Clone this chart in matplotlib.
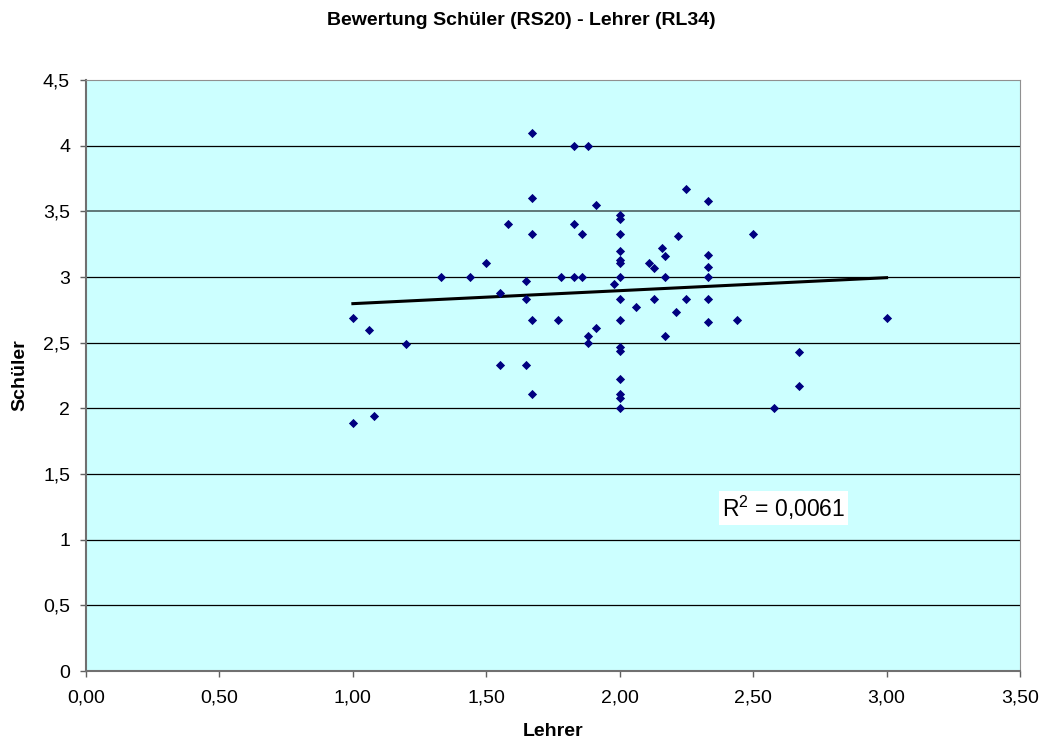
import numpy as np
from matplotlib import pyplot as plt

# Werte
lehrer = [1.00, 1.06, 1.20, 1.00, 1.08, 1.33, 1.44, 1.50, 1.55, 1.55,
          1.58, 1.65, 1.65, 1.65, 1.67, 1.67, 1.67, 1.67, 1.67, 1.78,
          1.77, 1.83, 1.83, 1.83, 1.86, 1.86, 1.88, 1.88, 1.88, 1.91,
          1.91, 1.98, 2.00, 2.00, 2.00, 2.00, 2.00, 2.00, 2.00, 2.00,
          2.00, 2.00, 2.00, 2.00, 2.00, 2.00, 2.00, 2.06, 2.11, 2.13,
          2.13, 2.16, 2.17, 2.17, 2.17, 2.21, 2.22, 2.25, 2.25, 2.33,
          2.33, 2.33, 2.33, 2.33, 2.33, 2.44, 2.50, 2.58, 2.67, 2.67,
          3.00]
schueler = [2.69, 2.60, 2.49, 1.89, 1.94, 3.00, 3.00, 3.11, 2.88, 2.33,
            3.40, 2.97, 2.83, 2.33, 4.10, 3.60, 3.33, 2.67, 2.11, 3.00,
            2.67, 4.00, 3.40, 3.00, 3.33, 3.00, 4.00, 2.55, 2.50, 3.55,
            2.61, 2.95, 3.47, 3.44, 3.33, 3.20, 3.13, 3.11, 3.00, 2.83,
            2.67, 2.47, 2.44, 2.22, 2.11, 2.08, 2.00, 2.77, 3.11, 3.07,
            2.83, 3.22, 3.16, 3.00, 2.55, 2.73, 3.31, 3.67, 2.83, 3.58,
            3.17, 3.08, 3.00, 2.83, 2.66, 2.67, 3.33, 2.00, 2.43, 2.17,
            2.69]
r2_text = 'R$^2$ = 0,0061'

plt.rcParams['font.family'] = ['Liberation Sans', 'DejaVu Sans']
plt.rcParams['mathtext.fontset'] = 'custom'
plt.rcParams['mathtext.rm'] = 'Liberation Sans'

fig = plt.figure(figsize=(10.39, 7.47), dpi=100)
ax = fig.add_axes([0.0828, 0.1017, 0.8989, 0.7912])
ax.set_facecolor('#CCFFFF')

x = np.array(lehrer)
y = np.array(schueler)

# lineare Trendlinie
m, b = np.polyfit(x, y, 1)
xs = np.array([x.min(), x.max()])
ax.plot(xs, m * xs + b, color='black', linewidth=2.2, zorder=3)

ax.scatter(x, y, marker='D', s=22, color='#000080', zorder=4, linewidths=0)

ax.set_xlim(0, 3.5)
ax.set_ylim(0, 4.5)
xt = np.arange(0, 3.51, 0.5)
yt = np.arange(0, 4.51, 0.5)
ax.set_xticks(xt)
ax.set_yticks(yt)
ax.set_xticklabels([('%.2f' % v).replace('.', ',') for v in xt])
ax.set_yticklabels([('%g' % v).replace('.', ',') for v in yt])
ax.tick_params(direction='out', length=4, width=1, color='#606060', labelsize=14)
ax.tick_params(axis='x', pad=9)
ax.tick_params(axis='y', pad=7.5)

for v in np.arange(0.5, 4.01, 0.5):
    if v == 3.5:
        ax.axhline(v, color='#607878', linewidth=1.4, zorder=1)
    else:
        ax.axhline(v, color='black', linewidth=0.9, zorder=1)

for s in ['top', 'right']:
    ax.spines[s].set_color('#909090')
    ax.spines[s].set_linewidth(0.8)
for s in ['left', 'bottom']:
    ax.spines[s].set_color('#707070')
    ax.spines[s].set_linewidth(1.5)

ax.set_xlabel('Lehrer', fontsize=14, fontweight='bold', va='center')
ax.set_ylabel('Schüler', fontsize=14, fontweight='bold', va='center')
ax.xaxis.set_label_coords(0.5, -0.1015)
ax.yaxis.set_label_coords(-0.0707, 0.5)
fig.text(0.502, 0.972, 'Bewertung Schüler (RS20) - Lehrer (RL34)', ha='center', va='center',
         fontsize=14, fontweight='bold')

ax.text(2.615, 1.24, r2_text, fontsize=16.5, ha='center', va='center',
        bbox=dict(facecolor='white', edgecolor='none', pad=2), zorder=5)

plt.savefig('out.png', dpi=100)
